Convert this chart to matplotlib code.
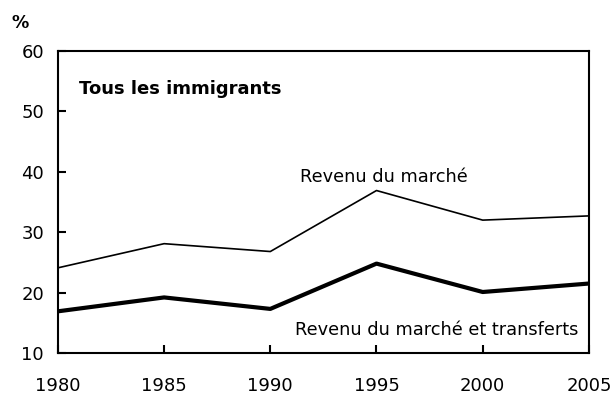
import matplotlib.pyplot as plt

# Data
years = [1980, 1985, 1990, 1995, 2000, 2005]
marketIncome = [24.1, 28.1, 26.8, 36.9, 32.0, 32.7]
marketAndTransfers = [16.9, 19.2, 17.3, 24.8, 20.1, 21.5]
yTicks = [10, 20, 30, 40, 50, 60]

plt.rcParams['font.family'] = ['DejaVu Sans']

fig = plt.figure(figsize=(6.16, 4.0), dpi=100)
ax = fig.add_axes([0.094, 0.1175, 0.862, 0.755])

ax.plot(years, marketIncome, color='black', linewidth=1.2)
ax.plot(years, marketAndTransfers, color='black', linewidth=3.0)

ax.set_xlim(1980, 2005)
ax.set_ylim(10, 60)
ax.set_xticks(years)
ax.set_yticks(yTicks)
ax.tick_params(direction='in', length=6, width=1.5, labelsize=13)
ax.tick_params(axis='x', pad=17)
ax.tick_params(axis='y', pad=10)
for side in ['left', 'right', 'top', 'bottom']:
    ax.spines[side].set_linewidth(1.5)

ax.text(0.04, 0.905, 'Tous les immigrants', transform=ax.transAxes,
        fontsize=13, fontweight='bold', va='top', ha='left')
ax.text(1991.4, 38.3, 'Revenu du marché', fontsize=12.8, ha='left',
        va='baseline')
ax.text(2004.5, 13.0, 'Revenu du marché et transferts', fontsize=12.8,
        ha='right', va='baseline')
fig.text(0.018, 0.965, '%', fontsize=12.5, fontweight='bold', va='top')

fig.savefig('out.png', dpi=100)
